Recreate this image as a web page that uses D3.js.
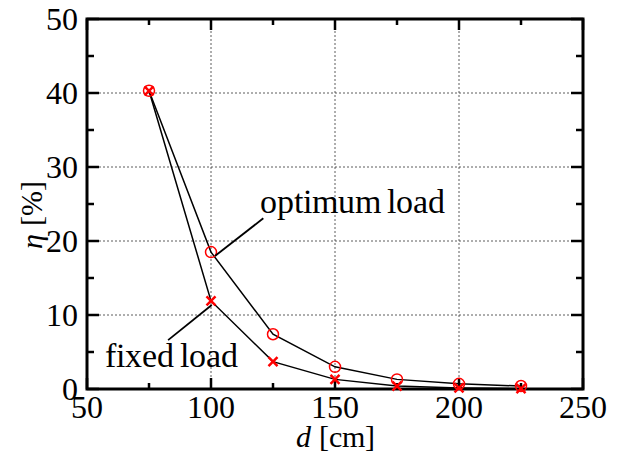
<!DOCTYPE html>
<html><head><meta charset="utf-8">
<script src="https://cdn.jsdelivr.net/npm/d3@7"></script>
<style>
@font-face{font-family:"ChartSerif";src:local("Liberation Serif"),local("LiberationSerif"),local("Liberation Serif Regular"),local("LiberationSerif-Regular");font-style:normal;}
@font-face{font-family:"ChartSerif";src:local("Liberation Serif Italic"),local("LiberationSerif-Italic");font-style:italic;}
html,body{margin:0;padding:0;background:#fff;}
</style>
</head><body>
<svg id="fig" width="620" height="459"></svg>
<script>
const distances = [75, 100, 125, 150, 175, 200, 225];
const optimumLoad = [40.3, 18.5, 7.4, 3.0, 1.3, 0.7, 0.4];
const fixedLoad = [40.3, 11.9, 3.7, 1.3, 0.4, 0.15, 0.05];
const xTicks = [50, 100, 150, 200, 250];
const yTicks = [0, 10, 20, 30, 40, 50];
const xMinor = [75, 125, 175, 225];
const yMinor = [5, 15, 25, 35, 45];

const FONT = '"ChartSerif", "Liberation Serif", "Times New Roman", serif';
const svg = d3.select("#fig");
const L = 87, R = 583, T = 19, B = 389;
const x = d3.scaleLinear().domain([50, 250]).range([L, R]);
const y = d3.scaleLinear().domain([0, 50]).range([B, T]);

// grid
svg.selectAll("line.vg").data(xTicks.slice(1, -1)).enter().append("line").attr("class", "vg")
  .attr("x1", d => x(d)).attr("x2", d => x(d)).attr("y1", T).attr("y2", B)
  .attr("stroke", "#333").attr("stroke-width", 0.8).attr("stroke-dasharray", "2,2");
svg.selectAll("line.hg").data(yTicks.slice(1, -1)).enter().append("line").attr("class", "hg")
  .attr("y1", d => y(d)).attr("y2", d => y(d)).attr("x1", L).attr("x2", R)
  .attr("stroke", "#333").attr("stroke-width", 0.8).attr("stroke-dasharray", "2,2");

// ticks (inward, all four sides)
function ticksX(vals, len) {
  vals.forEach(v => {
    svg.append("line").attr("x1", x(v)).attr("x2", x(v)).attr("y1", B).attr("y2", B - len)
      .attr("stroke", "#000").attr("stroke-width", 2.5);
    svg.append("line").attr("x1", x(v)).attr("x2", x(v)).attr("y1", T).attr("y2", T + len)
      .attr("stroke", "#000").attr("stroke-width", 2.5);
  });
}
function ticksY(vals, len) {
  vals.forEach(v => {
    svg.append("line").attr("y1", y(v)).attr("y2", y(v)).attr("x1", L).attr("x2", L + len)
      .attr("stroke", "#000").attr("stroke-width", 2.5);
    svg.append("line").attr("y1", y(v)).attr("y2", y(v)).attr("x1", R).attr("x2", R - len)
      .attr("stroke", "#000").attr("stroke-width", 2.5);
  });
}
ticksX(xTicks, 11); ticksX(xMinor, 6);
ticksY(yTicks, 12); ticksY(yMinor, 7);

// frame
svg.append("rect").attr("x", L).attr("y", T).attr("width", R - L).attr("height", B - T)
  .attr("fill", "none").attr("stroke", "#000").attr("stroke-width", 3);

// tick labels
svg.selectAll("text.xl").data(xTicks).enter().append("text").attr("class", "xl")
  .attr("x", d => x(d)).attr("y", 418).attr("text-anchor", "middle")
  .style("font-family", FONT).style("font-size", "32px").text(d => d);
svg.selectAll("text.yl").data(yTicks).enter().append("text").attr("class", "yl")
  .attr("x", 78).attr("y", d => y(d) + 11).attr("text-anchor", "end")
  .style("font-family", FONT).style("font-size", "32px").text(d => d);

// axis titles
const xt = svg.append("text").attr("x", (L + R) / 2).attr("y", 447).attr("text-anchor", "middle")
  .style("font-family", FONT).style("font-size", "30px");
xt.append("tspan").style("font-style", "italic").text("d");
xt.append("tspan").text(" [cm]");
const yt = svg.append("text").attr("transform", "translate(42,215) rotate(-90)")
  .attr("text-anchor", "middle").style("font-family", FONT).style("font-size", "30px");
yt.append("tspan").style("font-style", "italic").text("η");
yt.append("tspan").text(" [%]");

// lines
const line = d3.line().x((d, i) => x(distances[i])).y(d => y(d));
[optimumLoad, fixedLoad].forEach(s => {
  svg.append("path").attr("d", line(s)).attr("fill", "none")
    .attr("stroke", "#000").attr("stroke-width", 1.5);
});

// markers
svg.selectAll("path.cx").data(fixedLoad).enter().append("path").attr("class", "cx")
  .attr("transform", (d, i) => `translate(${x(distances[i])},${y(d)})`)
  .attr("d", "M-4.5,-4.5L4.5,4.5M-4.5,4.5L4.5,-4.5")
  .attr("stroke", "#f00").attr("stroke-width", 2.5).attr("fill", "none");
svg.selectAll("circle.co").data(optimumLoad).enter().append("circle").attr("class", "co")
  .attr("cx", (d, i) => x(distances[i])).attr("cy", d => y(d)).attr("r", 5.5)
  .attr("fill", "none").attr("stroke", "#f00").attr("stroke-width", 1.5);

// annotations (data coordinates)
const annLines = [[121.1, 23.07, 101.6, 17.97], [82.7, 6.6, 100.3, 11.35]];
annLines.forEach(a => {
  svg.append("line").attr("x1", x(a[0])).attr("y1", y(a[1])).attr("x2", x(a[2])).attr("y2", y(a[3]))
    .attr("stroke", "#000").attr("stroke-width", 1.8);
});
const annText = [{t: "optimum load", x: 119.8, y: 23.8}, {t: "fixed load", x: 57.3, y: 2.97}];
annText.forEach(a => {
  svg.append("text").attr("x", x(a.x)).attr("y", y(a.y))
    .style("font-family", FONT).style("font-size", "34px").style("word-spacing", "-3px").text(a.t);
});
</script>
</body></html>
